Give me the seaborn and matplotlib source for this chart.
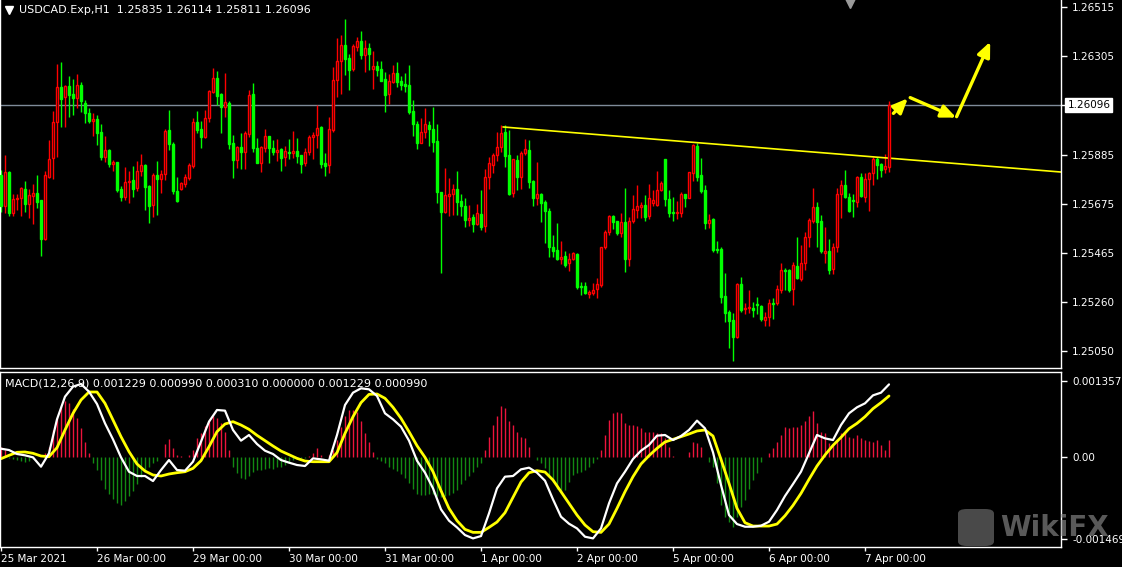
import numpy as np
import pandas as pd
import matplotlib.pyplot as plt
import seaborn as sns
from matplotlib.patches import FancyBboxPatch

# Datos: velas H1 de USDCAD (25 Mar 2021 00:00 - 7 Apr 2021 06:00)

opens = [
    1.25800, 1.25667, 1.25812, 1.25638, 1.25697, 1.25702, 1.25740, 1.25676, 1.25710, 1.25723,
    1.25693, 1.25527, 1.25791, 1.25872, 1.26025, 1.26174, 1.26132, 1.26179, 1.26145, 1.26128,
    1.26183, 1.26106, 1.26064, 1.26030, 1.26038, 1.25983, 1.25876, 1.25906, 1.25846, 1.25855,
    1.25740, 1.25706, 1.25770, 1.25778, 1.25744, 1.25817, 1.25842, 1.25753, 1.25672, 1.25800,
    1.25782, 1.25804, 1.25991, 1.25932, 1.25731, 1.25740, 1.25761, 1.25787, 1.25838, 1.26025,
    1.25995, 1.25961, 1.26042, 1.26153, 1.26213, 1.26145, 1.26089, 1.26106, 1.25936, 1.25863,
    1.25919, 1.25897, 1.25974, 1.26145, 1.25915, 1.25851, 1.25915, 1.25966, 1.25915, 1.25897,
    1.25910, 1.25876, 1.25897, 1.25893, 1.25902, 1.25885, 1.25851, 1.25897, 1.25961, 1.25970,
    1.26004, 1.25851, 1.25842, 1.25991, 1.26204, 1.26285, 1.26353, 1.26298, 1.26251, 1.26345,
    1.26370, 1.26311, 1.26341, 1.26251, 1.26264, 1.26251, 1.26209, 1.26145, 1.26196, 1.26234,
    1.26200, 1.26187, 1.26183, 1.26072, 1.26017, 1.25936, 1.25983, 1.26012, 1.25995, 1.25944,
    1.25727, 1.25642, 1.25710, 1.25719, 1.25740, 1.25689, 1.25667, 1.25608, 1.25621, 1.25591,
    1.25633, 1.25582, 1.25791, 1.25842, 1.25885, 1.25919, 1.25983, 1.25885, 1.25723, 1.25863,
    1.25791, 1.25893, 1.25906, 1.25774, 1.25702, 1.25719, 1.25684, 1.25646, 1.25493, 1.25480,
    1.25442, 1.25454, 1.25425, 1.25442, 1.25463, 1.25327, 1.25327, 1.25293, 1.25297, 1.25314,
    1.25331, 1.25493, 1.25557, 1.25625, 1.25604, 1.25552, 1.25599, 1.25442, 1.25604, 1.25650,
    1.25663, 1.25672, 1.25625, 1.25680, 1.25672, 1.25736, 1.25868, 1.25697, 1.25642, 1.25638,
    1.25638, 1.25719, 1.25702, 1.25808, 1.25923, 1.25800, 1.25736, 1.25595, 1.25612, 1.25484,
    1.25484, 1.25284, 1.25216, 1.25182, 1.25109, 1.25335, 1.25229, 1.25233, 1.25233, 1.25250,
    1.25241, 1.25182, 1.25195, 1.25254, 1.25254, 1.25310, 1.25395, 1.25395, 1.25314, 1.25412,
    1.25356, 1.25425, 1.25535, 1.25604, 1.25663, 1.25604, 1.25467, 1.25476, 1.25399, 1.25493,
    1.25719, 1.25757, 1.25706, 1.25693, 1.25684, 1.25791, 1.25706, 1.25782, 1.25808, 1.25868,
    1.25846, 1.25825, 1.25835,
]
highs = [
    1.25821, 1.25885, 1.25817, 1.25719, 1.25719, 1.25748, 1.25774, 1.25740, 1.25761, 1.25800,
    1.25693, 1.25817, 1.25949, 1.26072, 1.26272, 1.26281, 1.26183, 1.26221, 1.26209, 1.26230,
    1.26196, 1.26119, 1.26085, 1.26064, 1.26055, 1.26017, 1.25966, 1.25910, 1.25863, 1.25855,
    1.25753, 1.25834, 1.25817, 1.25838, 1.25859, 1.25889, 1.25846, 1.25757, 1.25808, 1.25859,
    1.25821, 1.25995, 1.26076, 1.25940, 1.25791, 1.25770, 1.25804, 1.25851, 1.26042, 1.26072,
    1.26030, 1.26076, 1.26162, 1.26255, 1.26243, 1.26149, 1.26234, 1.26115, 1.25970, 1.25923,
    1.25978, 1.25987, 1.26162, 1.26191, 1.25957, 1.25923, 1.25995, 1.25966, 1.25949, 1.25953,
    1.25915, 1.25923, 1.25953, 1.25987, 1.25957, 1.25885, 1.25915, 1.25970, 1.25983, 1.26098,
    1.26008, 1.25893, 1.26047, 1.26260, 1.26383, 1.26396, 1.26464, 1.26315, 1.26358, 1.26387,
    1.26413, 1.26375, 1.26362, 1.26328, 1.26285, 1.26285, 1.26238, 1.26230, 1.26268, 1.26281,
    1.26221, 1.26234, 1.26268, 1.26119, 1.26030, 1.26042, 1.26085, 1.26030, 1.26089, 1.26017,
    1.25727, 1.25829, 1.25787, 1.25761, 1.25817, 1.25719, 1.25702, 1.25672, 1.25633, 1.25676,
    1.25736, 1.25825, 1.25876, 1.25893, 1.25983, 1.26012, 1.26012, 1.25991, 1.25868, 1.25885,
    1.25902, 1.25953, 1.25949, 1.25778, 1.25855, 1.25723, 1.25693, 1.25659, 1.25544, 1.25595,
    1.25518, 1.25476, 1.25467, 1.25471, 1.25467, 1.25344, 1.25344, 1.25310, 1.25339, 1.25361,
    1.25493, 1.25565, 1.25629, 1.25629, 1.25604, 1.25638, 1.25744, 1.25621, 1.25714, 1.25757,
    1.25684, 1.25714, 1.25761, 1.25736, 1.25817, 1.25774, 1.25868, 1.25736, 1.25706, 1.25689,
    1.25727, 1.25719, 1.25812, 1.25932, 1.25936, 1.25872, 1.25757, 1.25633, 1.25616, 1.25518,
    1.25493, 1.25382, 1.25224, 1.25212, 1.25339, 1.25365, 1.25254, 1.25310, 1.25259, 1.25280,
    1.25246, 1.25216, 1.25271, 1.25276, 1.25331, 1.25425, 1.25403, 1.25399, 1.25429, 1.25535,
    1.25501, 1.25557, 1.25616, 1.25744, 1.25684, 1.25629, 1.25578, 1.25527, 1.25510, 1.25744,
    1.25778, 1.25821, 1.25723, 1.25719, 1.25795, 1.25808, 1.25808, 1.25812, 1.25876, 1.25876,
    1.25851, 1.25889, 1.26114,
]
lows = [
    1.25642, 1.25638, 1.25625, 1.25625, 1.25650, 1.25625, 1.25642, 1.25616, 1.25591, 1.25659,
    1.25454, 1.25523, 1.25787, 1.25782, 1.25876, 1.26004, 1.26004, 1.26047, 1.26055, 1.26085,
    1.26068, 1.26021, 1.26021, 1.25966, 1.25927, 1.25863, 1.25855, 1.25834, 1.25817, 1.25727,
    1.25689, 1.25693, 1.25680, 1.25706, 1.25731, 1.25795, 1.25650, 1.25595, 1.25621, 1.25629,
    1.25723, 1.25778, 1.25906, 1.25719, 1.25684, 1.25736, 1.25748, 1.25778, 1.25829, 1.25978,
    1.25915, 1.25957, 1.26025, 1.26149, 1.26098, 1.25978, 1.26047, 1.25910, 1.25787, 1.25829,
    1.25825, 1.25825, 1.25961, 1.25897, 1.25851, 1.25812, 1.25897, 1.25851, 1.25885, 1.25859,
    1.25817, 1.25838, 1.25868, 1.25872, 1.25851, 1.25808, 1.25838, 1.25885, 1.25868, 1.25915,
    1.25829, 1.25795, 1.25808, 1.25983, 1.26132, 1.26145, 1.26226, 1.26162, 1.26243, 1.26328,
    1.26294, 1.26238, 1.26247, 1.26166, 1.26221, 1.26200, 1.26068, 1.26102, 1.26191, 1.26174,
    1.26162, 1.26153, 1.26059, 1.25966, 1.25910, 1.25936, 1.25957, 1.25923, 1.25897, 1.25680,
    1.25382, 1.25638, 1.25625, 1.25629, 1.25629, 1.25625, 1.25578, 1.25582, 1.25557, 1.25587,
    1.25565, 1.25557, 1.25740, 1.25808, 1.25859, 1.25897, 1.25834, 1.25714, 1.25706, 1.25736,
    1.25740, 1.25885, 1.25744, 1.25667, 1.25672, 1.25599, 1.25510, 1.25450, 1.25450, 1.25437,
    1.25420, 1.25408, 1.25391, 1.25437, 1.25314, 1.25288, 1.25293, 1.25276, 1.25288, 1.25276,
    1.25322, 1.25484, 1.25544, 1.25570, 1.25544, 1.25535, 1.25386, 1.25412, 1.25595, 1.25616,
    1.25616, 1.25604, 1.25612, 1.25667, 1.25667, 1.25731, 1.25667, 1.25621, 1.25604, 1.25612,
    1.25621, 1.25663, 1.25702, 1.25774, 1.25774, 1.25723, 1.25570, 1.25574, 1.25471, 1.25467,
    1.25254, 1.25173, 1.25062, 1.25007, 1.25105, 1.25216, 1.25207, 1.25212, 1.25195, 1.25207,
    1.25178, 1.25156, 1.25156, 1.25186, 1.25246, 1.25297, 1.25310, 1.25301, 1.25246, 1.25356,
    1.25348, 1.25395, 1.25493, 1.25595, 1.25493, 1.25467, 1.25425, 1.25378, 1.25378, 1.25471,
    1.25616, 1.25702, 1.25642, 1.25621, 1.25663, 1.25706, 1.25684, 1.25646, 1.25757, 1.25782,
    1.25791, 1.25808, 1.25811,
]
closes = [
    1.25667, 1.25812, 1.25638, 1.25697, 1.25702, 1.25744, 1.25676, 1.25714, 1.25723, 1.25684,
    1.25527, 1.25800, 1.25868, 1.26025, 1.26174, 1.26123, 1.26179, 1.26140, 1.26128, 1.26183,
    1.26115, 1.26064, 1.26030, 1.26038, 1.25978, 1.25876, 1.25906, 1.25846, 1.25855, 1.25736,
    1.25706, 1.25770, 1.25774, 1.25740, 1.25817, 1.25842, 1.25748, 1.25667, 1.25800, 1.25782,
    1.25804, 1.25987, 1.25932, 1.25731, 1.25689, 1.25765, 1.25791, 1.25842, 1.26025, 1.25991,
    1.25961, 1.26042, 1.26157, 1.26213, 1.26136, 1.26089, 1.26110, 1.25932, 1.25863, 1.25919,
    1.25897, 1.25978, 1.26140, 1.25915, 1.25851, 1.25919, 1.25966, 1.25915, 1.25897, 1.25906,
    1.25872, 1.25902, 1.25893, 1.25902, 1.25880, 1.25846, 1.25897, 1.25961, 1.25970, 1.26000,
    1.25846, 1.25838, 1.25995, 1.26204, 1.26285, 1.26353, 1.26294, 1.26247, 1.26349, 1.26370,
    1.26311, 1.26341, 1.26315, 1.26264, 1.26247, 1.26200, 1.26140, 1.26200, 1.26234, 1.26196,
    1.26183, 1.26179, 1.26068, 1.26017, 1.25936, 1.25983, 1.26017, 1.25995, 1.25940, 1.25727,
    1.25642, 1.25714, 1.25719, 1.25740, 1.25684, 1.25667, 1.25608, 1.25616, 1.25591, 1.25638,
    1.25578, 1.25791, 1.25851, 1.25885, 1.25919, 1.25978, 1.25880, 1.25719, 1.25868, 1.25791,
    1.25893, 1.25910, 1.25770, 1.25702, 1.25719, 1.25680, 1.25646, 1.25493, 1.25476, 1.25442,
    1.25450, 1.25416, 1.25442, 1.25467, 1.25322, 1.25322, 1.25297, 1.25301, 1.25310, 1.25335,
    1.25493, 1.25557, 1.25625, 1.25599, 1.25552, 1.25599, 1.25442, 1.25604, 1.25655, 1.25667,
    1.25672, 1.25621, 1.25702, 1.25693, 1.25736, 1.25765, 1.25697, 1.25638, 1.25638, 1.25642,
    1.25719, 1.25702, 1.25812, 1.25927, 1.25791, 1.25731, 1.25595, 1.25608, 1.25480, 1.25480,
    1.25280, 1.25212, 1.25178, 1.25109, 1.25335, 1.25224, 1.25233, 1.25237, 1.25224, 1.25246,
    1.25186, 1.25195, 1.25254, 1.25250, 1.25314, 1.25395, 1.25391, 1.25310, 1.25416, 1.25361,
    1.25425, 1.25535, 1.25608, 1.25663, 1.25599, 1.25476, 1.25476, 1.25395, 1.25493, 1.25719,
    1.25757, 1.25706, 1.25646, 1.25689, 1.25791, 1.25710, 1.25782, 1.25808, 1.25868, 1.25842,
    1.25821, 1.25838, 1.26096,
]

# MACD(12,26,9): líneas leídas cada 2 velas, histograma por vela (en millonésimas)
macd_bars = list(range(0, 223, 2))
macd_main_e6 = [
    149, 125, 54, 30, -6, -173, 66, 675, 1081, 1260,
    1307, 1170, 949, 603, 316, -6, -263, -340, -340, -430,
    -233, -54, -233, -245, -84, 275, 633, 842, 830, 484,
    293, 394, 233, 113, 54, -54, -101, -143, -161, -24,
    -42, -66, 394, 931, 1152, 1230, 1212, 1093, 782, 675,
    543, 293, -66, -281, -561, -937, -1140, -1260, -1397, -1457,
    -1415, -1009, -561, -352, -340, -221, -191, -281, -424, -758,
    -1069, -1194, -1278, -1427, -1457, -1278, -830, -472, -263, -36,
    113, 215, 382, 394, 304, 376, 484, 651, 513, 84,
    -501, -1039, -1200, -1248, -1248, -1230, -1158, -949, -698, -484,
    -263, 66, 394, 334, 304, 573, 782, 890, 961, 1104,
    1152, 1300,
]
macd_signal_e6 = [
    -30, 30, 84, 90, 66, 18, 6, 167, 484, 782,
    1021, 1164, 1164, 961, 663, 364, 96, -125, -251, -322,
    -340, -304, -281, -263, -203, -66, 185, 454, 591, 633,
    573, 496, 388, 293, 197, 107, 42, -24, -72, -84,
    -84, -84, 78, 424, 722, 973, 1122, 1128, 1051, 890,
    693, 454, 203, -6, -263, -603, -919, -1140, -1295, -1349,
    -1349, -1260, -1164, -997, -722, -448, -281, -245, -269, -412,
    -621, -830, -1039, -1218, -1337, -1349, -1200, -919, -621, -352,
    -125, 24, 155, 269, 316, 364, 412, 466, 484, 376,
    -42, -472, -919, -1176, -1236, -1236, -1236, -1200, -1051, -866,
    -651, -400, -161, 36, 209, 352, 507, 603, 722, 866,
    973, 1093,
]
macd_hist_e6 = [
    186, 126, -24, -42, -54, -66, -84, -66, -42, -6,
    -6, 66, 186, 486, 696, 906, 996, 966, 858, 696,
    516, 276, 66, -114, -234, -414, -564, -654, -744, -822,
    -864, -786, -702, -606, -486, -366, -264, -174, -114, -66,
    -6, 234, 318, 156, 36, 18, -6, 36, 126, 336,
    426, 558, 666, 726, 696, 606, 456, 126, -174, -294,
    -384, -402, -342, -264, -234, -234, -222, -204, -222, -174,
    -186, -144, -84, -54, -42, -24, -24, 18, 66, 156,
    36, -6, 36, 126, 306, 546, 726, 834, 834, 798,
    636, 438, 276, 96, -42, -66, -114, -174, -222, -252,
    -306, -384, -474, -564, -654, -684, -684, -654, -666, -690,
    -714, -690, -678, -642, -582, -492, -414, -342, -264, -174,
    -114, 126, 366, 576, 726, 906, 876, 636, 576, 456,
    366, 336, 186, -6, -54, -102, -204, -324, -444, -564,
    -642, -594, -444, -324, -294, -264, -234, -174, -114, -42,
    126, 396, 666, 786, 798, 786, 606, 576, 576, 558,
    516, 456, 456, 456, 438, 426, 336, 186, 18, -6,
    -6, -6, 96, 276, 258, 186, -6, -84, -174, -474,
    -864, -1074, -1164, -1254, -1074, -894, -774, -564, -414, -294,
    -84, -6, 66, 156, 276, 396, 534, 516, 534, 546,
    576, 636, 726, 816, 606, 456, 426, 246, 234, 306,
    426, 426, 366, 336, 396, 336, 306, 294, 276, 306,
    216, 126, 306,
]
macd_label = "MACD(12,26,9) 0.001229 0.000990 0.000310 0.000000 0.001229 0.000990"

# Ejes
price_ticks = [1.26515, 1.26305, 1.25885, 1.25675, 1.25465, 1.25260, 1.25050]
macd_ticks = [0.001357, 0.0, -0.001469]
macd_tick_labels = ["0.001357", "0.00", "-0.001469"]
date_bars = [0, 24, 48, 72, 96, 120, 144, 168, 192, 216]
date_labels = ["25 Mar 2021", "26 Mar 00:00", "29 Mar 00:00", "30 Mar 00:00",
               "31 Mar 00:00", "1 Apr 00:00", "2 Apr 00:00", "5 Apr 00:00",
               "6 Apr 00:00", "7 Apr 00:00"]

# Línea de tendencia y flechas dibujadas a mano (barra, precio)
trend_x = [125.5, 265.0]
trend_y = [1.26004, 1.25812]
arrows = [((223.1, 1.26062), (226.7, 1.26126)),
          ((227.3, 1.26129), (238.8, 1.26044)),
          ((238.9, 1.26048), (247.3, 1.26367))]

# Estilo
sns.set_theme(style="dark", rc={
    "figure.facecolor": "black", "axes.facecolor": "black",
    "axes.edgecolor": "white", "text.color": "white",
    "xtick.color": "white", "ytick.color": "white", "axes.grid": False,
})
plt.rcParams['font.family'] = ['DejaVu Sans']

W, H = 1122, 567
fig = plt.figure(figsize=(W / 100, H / 100), dpi=100)
ax = fig.add_axes([0, 1 - 368 / H, 1061 / W, 368 / H])
ax2 = fig.add_axes([0, 1 - 547 / H, 1061 / W, 175 / H])

bars = np.arange(len(closes))
o = np.array(opens)
c = np.array(closes)
bull = c >= o

# Velas: alcistas en rojo (huecas), bajistas en verde (rellenas)
ax.vlines(bars[bull], np.array(lows)[bull], np.array(highs)[bull], color="#ff0000", lw=1)
ax.vlines(bars[~bull], np.array(lows)[~bull], np.array(highs)[~bull], color="#00ff00", lw=1)
ax.bar(bars[bull], (c - o)[bull], bottom=o[bull], width=0.72,
       facecolor="black", edgecolor="#ff0000", linewidth=1, zorder=3)
ax.bar(bars[~bull], (c - o)[~bull], bottom=o[~bull], width=0.72,
       facecolor="#00ff00", edgecolor="#00ff00", linewidth=1, zorder=3)

ax.axhline(closes[-1], color="#7f8b99", lw=1, zorder=1)
ax.plot(trend_x, trend_y, color="#ffff00", lw=1.2, zorder=2)
for (x0, y0), (x1, y1) in arrows:
    ax.annotate("", xy=(x1, y1), xytext=(x0, y0),
                arrowprops=dict(arrowstyle="-|>,head_length=0.8,head_width=0.35",
                                color="#ffff00", lw=2.4, shrinkA=0, shrinkB=0,
                                mutation_scale=11), zorder=5)

ax.set_xlim(-0.25, 265)
ax.set_ylim(1.24977, 1.26545)
ax.set_xticks([])
ax.yaxis.tick_right()
ax.set_yticks(price_ticks)
ax.set_yticklabels([f"{p:.5f}" for p in price_ticks])
ax.tick_params(axis="y", which="both", right=True, left=False, labelright=True,
               labelleft=False, length=4, width=1, direction="out", pad=4,
               labelsize=7.5, colors="white")
ax.spines["top"].set_visible(False)
for s in ["left", "right", "bottom"]:
    ax.spines[s].set_color("white")
    ax.spines[s].set_linewidth(1)

# Etiqueta del precio actual
ax.text(1.006, closes[-1], f"{closes[-1]:.5f}", transform=ax.get_yaxis_transform(),
        color="black", fontsize=7.5, va="center", ha="left",
        bbox=dict(boxstyle="square,pad=0.2", fc="white", ec="white"))
ax.plot([1.0, 1.004], [closes[-1], closes[-1]], color="white", lw=1,
        transform=ax.get_yaxis_transform(), clip_on=False)

# Encabezado
ax.plot(9 / 1061, 1 - 10 / 368, marker="v", ms=6, color="white",
        transform=ax.transAxes, clip_on=False)
ax.text(19 / 1061, 1 - 10 / 368,
        f"USDCAD.Exp,H1  {opens[-1]:.5f} {highs[-1]:.5f} {lows[-1]:.5f} {closes[-1]:.5f}",
        transform=ax.transAxes, color="white", fontsize=8, va="center", ha="left")
ax.plot(850 / 1061, 1 - 2 / 368, marker="v", ms=9, color="#9a9a9a",
        transform=ax.transAxes, clip_on=False)

# Panel MACD
hist = np.array(macd_hist_e6) * 1e-6
hcol = np.where(hist >= 0, "#ec143c", "#138a13")
ax2.vlines(bars, 0, hist, colors=hcol, lw=1)

df_macd = pd.DataFrame({
    "bar": macd_bars,
    "main": np.array(macd_main_e6) * 1e-6,
    "signal": np.array(macd_signal_e6) * 1e-6,
})
sns.lineplot(data=df_macd, x="bar", y="signal", ax=ax2, color="#ffff00", lw=2)
sns.lineplot(data=df_macd, x="bar", y="main", ax=ax2, color="white", lw=1.6)

ax2.set_xlim(-0.25, 265)
ax2.set_ylim(-0.001611, 0.001522)
ax2.set_xlabel("")
ax2.set_ylabel("")
ax2.yaxis.tick_right()
ax2.set_yticks(macd_ticks)
ax2.set_yticklabels(macd_tick_labels)
ax2.tick_params(axis="y", which="both", right=True, left=False, labelright=True,
                labelleft=False, length=4, width=1, direction="out", pad=4,
                labelsize=7.5, colors="white")
ax2.set_xticks(date_bars)
ax2.set_xticklabels(date_labels)
ax2.tick_params(axis="x", bottom=True, length=3, width=1, direction="out",
                pad=2, labelsize=7.5, colors="white")
for lbl in ax2.get_xticklabels():
    lbl.set_ha("left")
for s in ["left", "right", "bottom", "top"]:
    ax2.spines[s].set_color("white")
    ax2.spines[s].set_linewidth(1)

ax2.text(5 / 1061, 1 - 11 / 175, macd_label, transform=ax2.transAxes,
         color="white", fontsize=8, va="center", ha="left")

# Marca de agua
fig.patches.append(FancyBboxPatch((958 / W, 1 - 546 / H), 36 / W, 37 / H,
                                  boxstyle="round,pad=0,rounding_size=0.008",
                                  transform=fig.transFigure, fc="#7a7a7a",
                                  ec="none", alpha=0.6, zorder=10))
fig.text(1000 / W, 1 - 528 / H, "WikiFX", fontsize=20, fontweight="bold",
         color="#8a8a8a", alpha=0.65, va="center", ha="left")

fig.savefig("out.png", dpi=100, facecolor="black")
